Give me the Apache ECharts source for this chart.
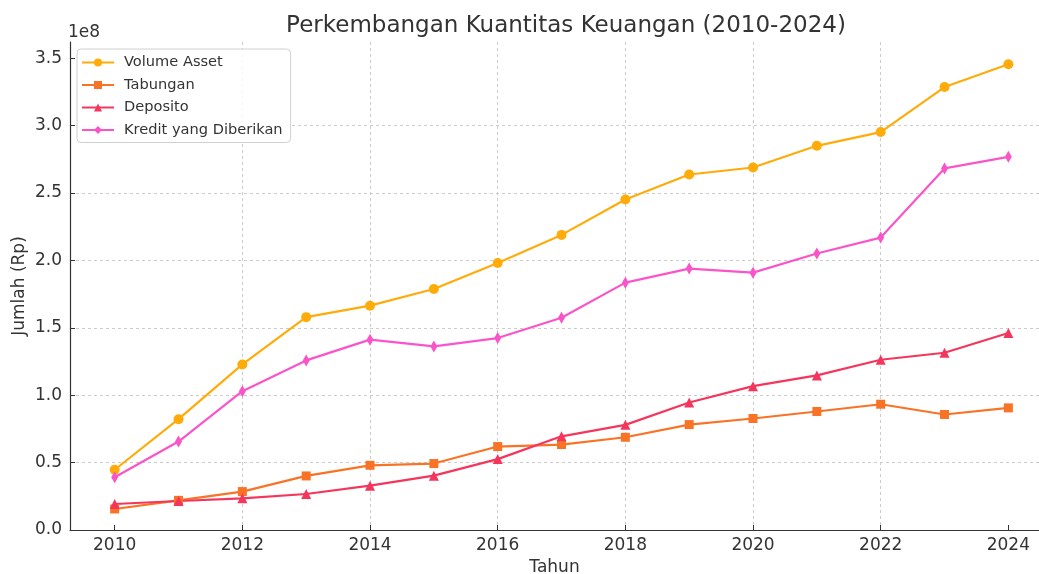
<!DOCTYPE html>
<html>
<head>
<meta charset="utf-8">
<script src="https://cdn.jsdelivr.net/npm/echarts@6/dist/echarts.min.js"></script>
<style>html,body{margin:0;padding:0;background:#fff}#c{width:1039px;height:574px}</style>
</head>
<body>
<div id="c"></div>
<script>
// Data (values in units of 1e8 Rp)
const years = [2010, 2011, 2012, 2013, 2014, 2015, 2016, 2017, 2018, 2019, 2020, 2021, 2022, 2023, 2024];
const volumeAsset = [0.447, 0.822, 1.228, 1.579, 1.664, 1.788, 1.981, 2.189, 2.452, 2.637, 2.689, 2.850, 2.952, 3.286, 3.455];
const tabungan   = [0.156, 0.220, 0.285, 0.401, 0.480, 0.493, 0.619, 0.634, 0.688, 0.782, 0.827, 0.879, 0.933, 0.857, 0.906];
const deposito   = [0.193, 0.215, 0.235, 0.267, 0.329, 0.403, 0.526, 0.695, 0.780, 0.946, 1.067, 1.147, 1.263, 1.315, 1.461];
const kredit     = [0.391, 0.656, 1.030, 1.258, 1.412, 1.362, 1.424, 1.575, 1.835, 1.939, 1.909, 2.051, 2.169, 2.682, 2.768];
const xTicks = [2010, 2012, 2014, 2016, 2018, 2020, 2022, 2024];
const yTicks = [0, 0.5, 1.0, 1.5, 2.0, 2.5, 3.0, 3.5];
const seriesNames = ['Volume Asset', 'Tabungan', 'Deposito', 'Kredit yang Diberikan'];

const font = 'DejaVu Sans';
const txt = '#333333';
const pair = arr => years.map((y, i) => [y, arr[i]]);

const chart = echarts.init(document.getElementById('c'), null, {renderer: 'canvas'});
const mk = (name, data, color, symbol, size) => ({
  name, type: 'line', data: pair(data), symbol, symbolSize: size,
  lineStyle: {width: 2.2, color}, itemStyle: {color}, showSymbol: true, animation: false,
  emphasis: {disabled: true}
});
chart.setOption({
  animation: false,
  textStyle: {fontFamily: font},
  title: {
    text: 'Perkembangan Kuantitas Keuangan (2010-2024)',
    left: 561, top: 10, textAlign: 'center',
    textStyle: {fontFamily: font, fontSize: 23, fontWeight: 'normal', color: txt}
  },
  graphic: [{
    type: 'text', left: 68, top: 24,
    style: {text: '1e8', font: '17px "DejaVu Sans"', fill: txt}
  }],
  legend: {
    orient: 'vertical', left: 77, top: 49,
    padding: [6, 8, 5, 4],
    itemWidth: 32, itemHeight: 10, itemGap: 7.5,
    backgroundColor: 'rgba(255,255,255,0.85)',
    borderColor: '#d0d0d0', borderWidth: 1, borderRadius: 4,
    textStyle: {fontFamily: font, fontSize: 14.6, color: txt, padding: [0, 0, 0, 5]},
    data: seriesNames
  },
  grid: {left: 70, right: 0, top: 42, bottom: 44, containLabel: false, outerBoundsMode: 'none'},
  xAxis: {
    type: 'value', min: 2009.3, max: 2024.48, splitNumber: 7,
    name: 'Tahun', nameLocation: 'middle', nameGap: 27,
    nameTextStyle: {fontFamily: font, fontSize: 17, color: txt},
    axisLine: {show: true, lineStyle: {color: '#333', width: 1.2}},
    axisTick: {show: true, inside: true, length: 5, lineStyle: {color: '#333'}, customValues: xTicks},
    axisLabel: {fontFamily: font, fontSize: 17, color: txt, margin: 7, customValues: xTicks,
      formatter: v => String(v)},
    splitLine: {show: true, showMinLine: false, showMaxLine: false,
      lineStyle: {color: '#cccccc', type: [3, 3], width: 1}}
  },
  yAxis: {
    type: 'value', min: 0, max: 3.62, interval: 0.5,
    name: 'Jumlah (Rp)', nameLocation: 'middle', nameGap: 42, nameRotate: 90,
    nameMoveOverlap: false,
    nameTextStyle: {fontFamily: font, fontSize: 17, color: txt},
    axisLine: {show: true, lineStyle: {color: '#333', width: 1.2}},
    axisTick: {show: true, inside: true, length: 5, lineStyle: {color: '#333'}, customValues: yTicks},
    axisLabel: {fontFamily: font, fontSize: 17, color: txt, margin: 8, customValues: yTicks,
      formatter: v => v.toFixed(1)},
    splitLine: {show: true, showMinLine: false, showMaxLine: false,
      lineStyle: {color: '#cccccc', type: [3, 3], width: 1}}
  },
  series: [
    mk(seriesNames[0], volumeAsset, '#ffab0a', 'circle', 10),
    mk(seriesNames[1], tabungan, '#f97326', 'rect', 9),
    mk(seriesNames[2], deposito, '#f5365c', 'triangle', 10),
    mk(seriesNames[3], kredit, '#fa55c8', 'diamond', [7, 12])
  ]
});
</script>
</body>
</html>
